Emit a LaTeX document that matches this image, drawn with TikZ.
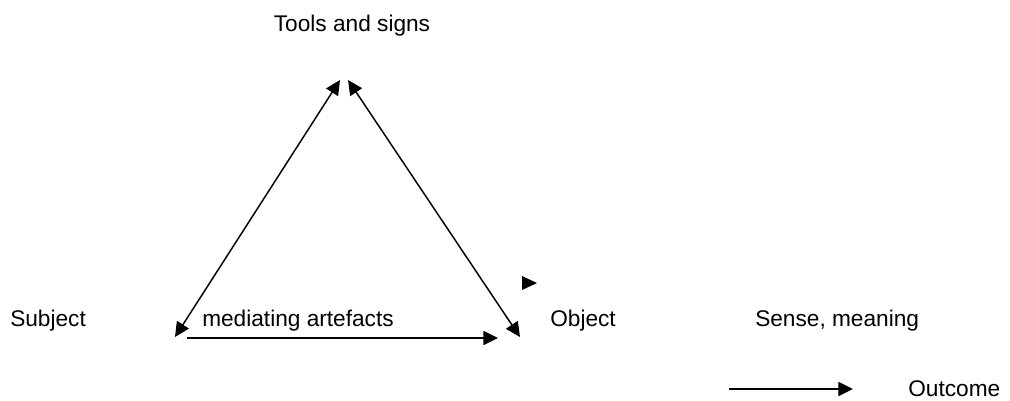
\documentclass[tikz,border=0pt]{standalone}
\usepackage{fontspec}
\setmainfont{Liberation Sans}
\usetikzlibrary{arrows.meta}
\begin{document}
\begin{tikzpicture}[x=0.75pt,y=-0.75pt,
  lbl/.style={inner sep=0pt,font=\fontsize{17}{20}\selectfont},
  link/.style={line width=1.1pt,black},
  tip/.style={-{Triangle[length=11pt,width=10.5pt]}},
  tips/.style={{Triangle[length=11pt,width=10.5pt]}-{Triangle[length=11pt,width=10.5pt]}}]
  \useasboundingbox (0,0) rectangle (1010,400);
  % labels
  \node[lbl,anchor=base] (tools) at (352,31) {Tools and signs};
  \node[lbl,anchor=base west] (subject) at (10,326) {Subject};
  \node[lbl,anchor=base] (mediating) at (298,326) {mediating artefacts};
  \node[lbl,anchor=base west] (object) at (550,326) {Object};
  \node[lbl,anchor=base west] (sense) at (755,326) {Sense, meaning};
  \node[lbl,anchor=base west] (outcome) at (908,396) {Outcome};
  % corner points of the triangle
  \coordinate (topL) at (340,80);
  \coordinate (topR) at (348,80);
  \coordinate (subjL) at (175,337);
  \coordinate (subjB) at (187,338);
  \coordinate (objB) at (498,338);
  \coordinate (objR) at (520,337);
  \coordinate (outA) at (729,389);
  \coordinate (outB) at (853,389);
  \coordinate (lone) at (537,283);
  % triangle sides
  \draw[link,tips] (subjL) -- (topL);
  \draw[link,tips] (topR) -- (objR);
  \draw[link,tip] (subjB) -- (objB);
  % stray arrow head
  \fill (lone) -- ++(-15,-7) -- ++(0,14) -- cycle;
  % outcome arrow
  \draw[link,tip] (outA) -- (outB);
\end{tikzpicture}
\end{document}
